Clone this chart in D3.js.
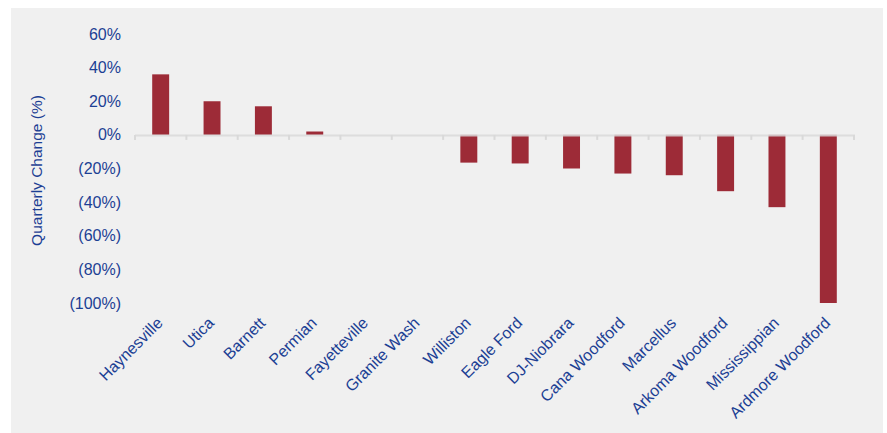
<!DOCTYPE html>
<html><head><meta charset="utf-8">
<script src="https://cdn.jsdelivr.net/npm/d3@7/dist/d3.min.js"></script>
<style>
html,body{margin:0;padding:0;background:#fff;}
svg{display:block;}
text{font-family:"Liberation Sans",Arial,sans-serif;fill:#1c3f94;}
</style></head>
<body>
<svg id="chart" width="887" height="433"></svg>
<script>
const categories = ["Haynesville","Utica","Barnett","Permian","Fayetteville","Granite Wash","Williston","Eagle Ford","DJ-Niobrara","Cana Woodford","Marcellus","Arkoma Woodford","Mississippian","Ardmore Woodford"];
const values = [36, 20, 17, 2, 0, 0, -16.5, -17, -20, -23, -24, -33.5, -43, -100];
const yTicks = [60, 40, 20, 0, -20, -40, -60, -80, -100];
const yTitle = "Quarterly Change (%)";

const svg = d3.select("#chart");
svg.append("rect").attr("x",11).attr("y",8).attr("width",872).attr("height",430).attr("fill","#f0f0f0");

const x = d3.scaleBand().domain(categories).range([135, 854]).paddingInner(0.67).paddingOuter(0.335);
const y = d3.scaleLinear().domain([-100, 60]).range([303, 34]);

const fmt = v => v < 0 ? "(" + Math.abs(v) + "%)" : v + "%";

// y tick labels
svg.append("g").selectAll("text").data(yTicks).join("text")
  .attr("x", 121).attr("y", d => y(d)).attr("dy", "0.35em")
  .attr("text-anchor", "end").style("font-size", "16px").text(fmt);

// y title
svg.append("text").attr("transform", `translate(42,${(y(60)+y(-100))/2+2}) rotate(-90)`)
  .attr("text-anchor","middle").style("font-size","15.5px").text(yTitle);

// bars
svg.append("g").selectAll("rect").data(values).join("rect")
  .attr("x", (d,i) => x(categories[i]))
  .attr("width", x.bandwidth())
  .attr("y", d => y(Math.max(0,d)))
  .attr("height", d => Math.abs(y(d) - y(0)))
  .attr("fill", "#9d2b37");

// x axis
const step = (854-135)/categories.length;
const ax = svg.append("g");
ax.append("line").attr("x1",135).attr("x2",855).attr("y1",y(0)+0.5).attr("y2",y(0)+0.5)
  .attr("stroke","#d9d9d9").attr("stroke-width",2).attr("stroke-opacity",0.85);
const tickPos = d3.range(categories.length+1).map(i => 135 + i*step);
ax.selectAll("line.t").data(tickPos).join("line").attr("class","t")
  .attr("x1", d=>d).attr("x2", d=>d).attr("y1", y(0)).attr("y2", y(0)+5)
  .attr("stroke","#d9d9d9").attr("stroke-width",2);

// x labels
svg.append("g").selectAll("text").data(categories).join("text")
  .attr("transform", d => `translate(${x(d)+x.bandwidth()/2+3},324) rotate(-45)`)
  .attr("text-anchor","end").style("font-size","16px").text(d=>d);
</script>
</body></html>
